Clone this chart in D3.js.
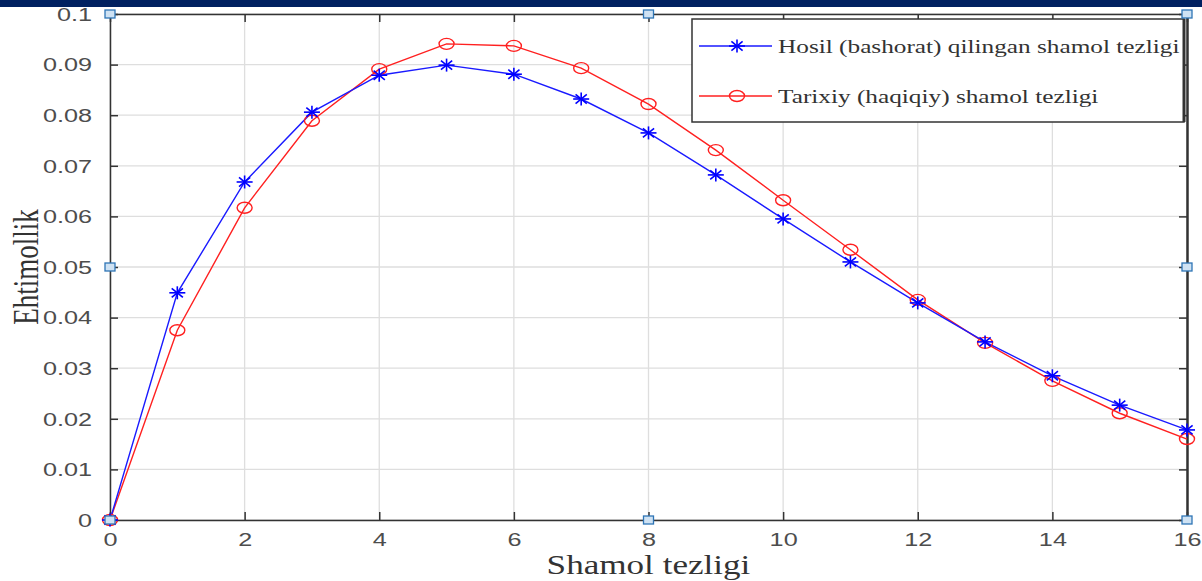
<!DOCTYPE html>
<html>
<head>
<meta charset="utf-8">
<title>Shamol tezligi</title>
<script src="https://cdn.jsdelivr.net/npm/d3@7"></script>
<style>
  html, body { margin: 0; padding: 0; background: #fff; }
  svg { display: block; }
  .tick text { font-family: "Liberation Sans", Arial, sans-serif; font-size: 18px; fill: #4d4d4d; }
</style>
</head>
<body>
<div id="chart"></div>
<script>
// data
var speeds = [0,1,2,3,4,5,6,7,8,9,10,11,12,13,14,15,16];
var predicted = [0, 0.0449, 0.0668, 0.0806, 0.0879, 0.0899, 0.0881, 0.0832, 0.0765, 0.0682, 0.0595, 0.0510, 0.0429, 0.0352, 0.0285, 0.0227, 0.0178];
var actual = [0, 0.0375, 0.0617, 0.0789, 0.0891, 0.0941, 0.0937, 0.0893, 0.0822, 0.0731, 0.0632, 0.0534, 0.0435, 0.0350, 0.0275, 0.0211, 0.0160];
var xTicks = [0,2,4,6,8,10,12,14,16];
var yTicks = [0,0.01,0.02,0.03,0.04,0.05,0.06,0.07,0.08,0.09,0.1];
var seriesNames = ["Hosil (bashorat) qilingan shamol tezligi", "Tarixiy (haqiqiy) shamol tezligi"];

var W = 1202, H = 581;
var L = 110, R = 1187, T = 14, B = 520;
var SERIF = "'Liberation Serif', 'Times New Roman', serif";

var svg = d3.select("#chart").append("svg").attr("width", W).attr("height", H);

// the picture is stretched sideways, so widen the text to match
function widen(sel, f) {
  sel.each(function(){
    var w = this.getComputedTextLength();
    d3.select(this).attr("textLength", w * f).attr("lengthAdjust", "spacingAndGlyphs");
  });
}

// slide header band
svg.append("rect").attr("x", 0).attr("y", 0).attr("width", W).attr("height", 7).attr("fill", "#002060");

var x = d3.scaleLinear().domain([0, 16]).range([L, R]);
var y = d3.scaleLinear().domain([0, 0.1]).range([B, T]);

// grid
svg.append("g").selectAll("line").data(xTicks).join("line")
  .attr("x1", d => x(d)).attr("x2", d => x(d)).attr("y1", T).attr("y2", B)
  .attr("stroke", "#dedede").attr("stroke-width", 1.3);
svg.append("g").selectAll("line").data(yTicks).join("line")
  .attr("x1", L).attr("x2", R).attr("y1", d => y(d)).attr("y2", d => y(d))
  .attr("stroke", "#dedede").attr("stroke-width", 1.3);

// axes (ticks inside, MATLAB style)
var fmtY = d => d === 0 ? "0" : (d === 0.1 ? "0.1" : d3.format(".2f")(d));
var gx = svg.append("g").attr("transform", "translate(0," + B + ")")
  .call(d3.axisBottom(x).tickValues(xTicks).tickSizeInner(-8).tickSizeOuter(0).tickPadding(13));
var gy = svg.append("g").attr("transform", "translate(" + L + ",0)")
  .call(d3.axisLeft(y).tickValues(yTicks).tickFormat(fmtY).tickSizeInner(-8).tickSizeOuter(0).tickPadding(18));
var gt = svg.append("g").attr("transform", "translate(0," + T + ")")
  .call(d3.axisTop(x).tickValues(xTicks).tickSizeInner(-8).tickSizeOuter(0).tickFormat(""));
var gr = svg.append("g").attr("transform", "translate(" + R + ",0)")
  .call(d3.axisRight(y).tickValues(yTicks).tickSizeInner(-8).tickSizeOuter(0).tickFormat(""));
[gx, gy, gt, gr].forEach(function(g){
  g.selectAll(".domain").attr("stroke", "#333").attr("stroke-width", 1.5);
  g.selectAll(".tick line").attr("stroke", "#333").attr("stroke-width", 1.5);
});
gr.select(".domain").attr("stroke-width", 2.5);
gy.selectAll(".tick text").attr("dy", "0.35em");
widen(gx.selectAll(".tick text"), 1.4);
widen(gy.selectAll(".tick text"), 1.4);

// lines
var line = d3.line().x((d, i) => x(speeds[i])).y(d => y(d));
svg.append("path").datum(actual).attr("d", line).attr("fill", "none").attr("stroke", "#ff2020").attr("stroke-width", 1.4);
svg.append("path").datum(predicted).attr("d", line).attr("fill", "none").attr("stroke", "#1a1aff").attr("stroke-width", 1.4);

function star(g, cx, cy) {
  var rx = 8, ry = 6.5;
  var s = g.append("g").attr("stroke", "#0000ff").attr("stroke-width", 1.6);
  s.append("line").attr("x1", cx - rx).attr("x2", cx + rx).attr("y1", cy).attr("y2", cy);
  s.append("line").attr("x1", cx).attr("x2", cx).attr("y1", cy - ry).attr("y2", cy + ry);
  s.append("line").attr("x1", cx - rx * 0.7).attr("x2", cx + rx * 0.7).attr("y1", cy - ry * 0.7).attr("y2", cy + ry * 0.7);
  s.append("line").attr("x1", cx - rx * 0.7).attr("x2", cx + rx * 0.7).attr("y1", cy + ry * 0.7).attr("y2", cy - ry * 0.7);
}
function ring(g, cx, cy) {
  g.append("ellipse").attr("cx", cx).attr("cy", cy).attr("rx", 7.5).attr("ry", 5.5)
    .attr("fill", "none").attr("stroke", "#ff2020").attr("stroke-width", 1.4);
}
var mk = svg.append("g");
actual.forEach((d, i) => ring(mk, x(speeds[i]), y(d)));
predicted.forEach((d, i) => star(mk, x(speeds[i]), y(d)));

// legend
var lg = svg.append("g");
lg.append("rect").attr("x", 692).attr("y", 19).attr("width", 492).attr("height", 103)
  .attr("fill", "#fff").attr("stroke", "#333").attr("stroke-width", 1.5);
lg.append("line").attr("x1", 1184).attr("x2", 1184).attr("y1", 19).attr("y2", 122).attr("stroke", "#333").attr("stroke-width", 3);
[46, 96].forEach(function(yy, i){
  lg.append("line").attr("x1", 699).attr("x2", 772).attr("y1", yy).attr("y2", yy)
    .attr("stroke", i === 0 ? "#1a1aff" : "#ff2020").attr("stroke-width", 1.4);
  if (i === 0) star(lg, 737, yy); else ring(lg, 737, yy);
  lg.append("text").attr("x", 778).attr("y", yy).attr("dy", "0.35em")
    .attr("font-family", SERIF).attr("font-size", 19)
    .attr("fill", "#333").text(seriesNames[i]);
});
widen(lg.selectAll("text"), 1.33);

// axis titles
var xt = svg.append("text").attr("x", (L + R) / 2).attr("y", 574).attr("text-anchor", "middle")
  .attr("font-family", SERIF).attr("font-size", 27).attr("fill", "#333")
  .text("Shamol tezligi");
widen(xt, 1.3);
svg.append("text").attr("transform", "translate(38," + (T + B) / 2 + ") rotate(-90) scale(1,1.35)").attr("text-anchor", "middle")
  .attr("font-family", SERIF).attr("font-size", 27).attr("fill", "#333")
  .text("Ehtimollik");

// selection handles (picture is a selected slide object)
var hx = [L, (L + R) / 2, R], hy = [T, (T + B) / 2, B];
var handles = [];
hx.forEach(a => hy.forEach(b => { if (!(a === hx[1] && b === hy[1])) handles.push([a, b]); }));
svg.append("g").selectAll("rect").data(handles).join("rect")
  .attr("x", d => d[0] - 5).attr("y", d => d[1] - 4).attr("width", 10).attr("height", 8)
  .attr("fill", "#cfe2f3").attr("stroke", "#2e75b6").attr("stroke-width", 1.3);
</script>
</body>
</html>
